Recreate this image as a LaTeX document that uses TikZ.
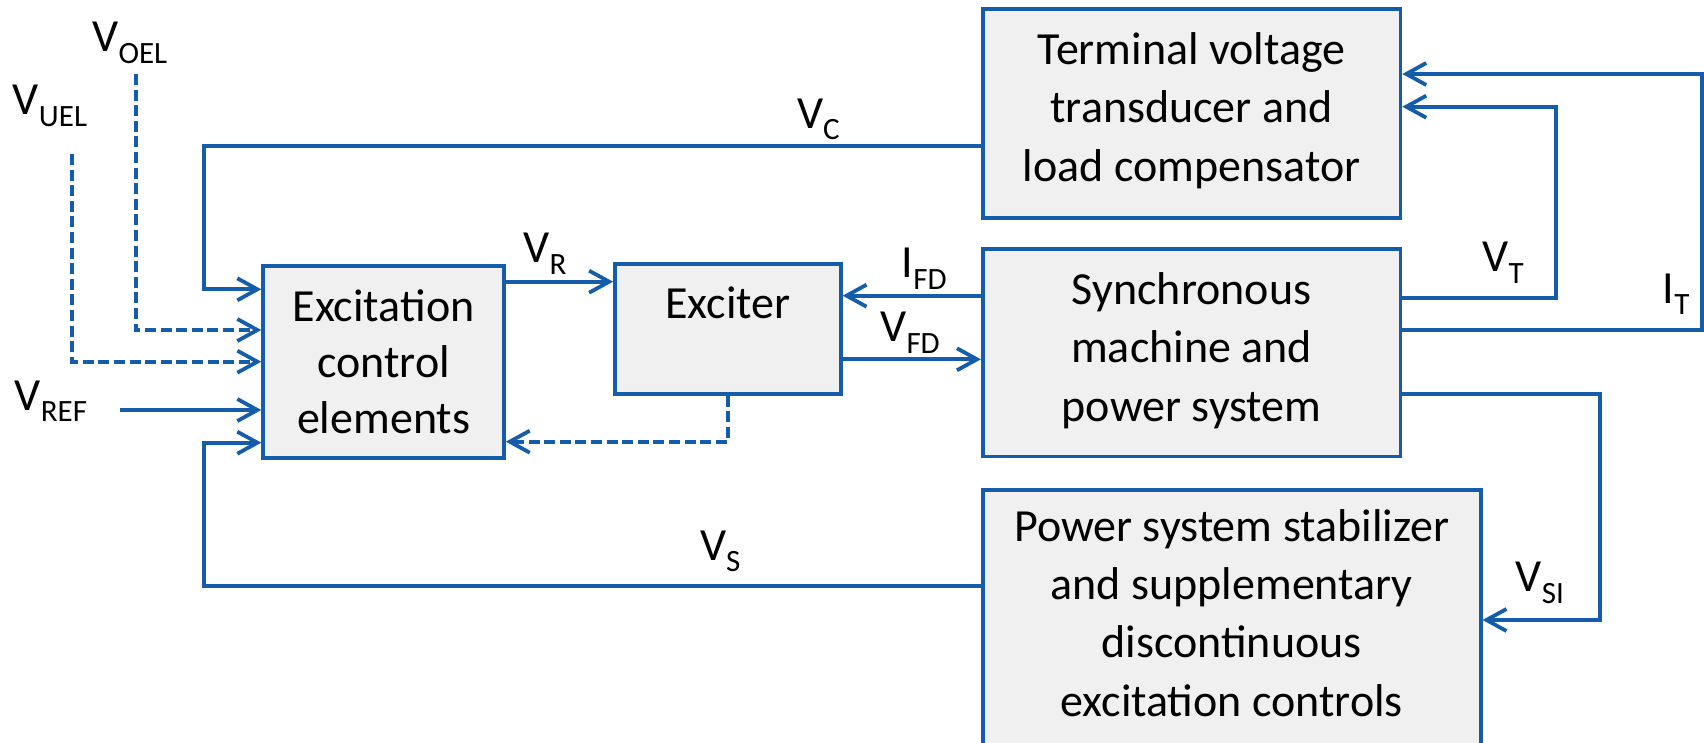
\documentclass[tikz,border=0pt]{standalone}
\usepackage{fontspec}
\setmainfont{Carlito}
\usetikzlibrary{arrows.meta}
\definecolor{lineblue}{HTML}{155DAA}
\definecolor{boxfill}{HTML}{F0F0F0}
\newcommand{\sbs}[1]{\raisebox{-5.7pt}{\fontsize{15.5}{18}\selectfont #1}}
\begin{document}
\begin{tikzpicture}[x=0.5pt,y=-0.5pt,
  box/.style={draw=lineblue, fill=boxfill, line width=1.9pt, inner sep=0pt, align=center, font=\fontsize{23}{29.15}\selectfont},
  txt/.style={inner sep=0pt, align=center, font=\fontsize{23}{29.15}\selectfont},
  lab/.style={inner sep=0pt, anchor=base west, font=\fontsize{23}{28}\selectfont},
  conn/.style={draw=lineblue, line width=1.9pt},
  arr/.style={conn, -{Straight Barb[length=10pt,width=11pt]}},
  dsh/.style={dash pattern=on 5.5pt off 2.3pt}
]
\useasboundingbox (0,0) rectangle (1704,743);
\clip (0,0) rectangle (1704,743);

\node[box, minimum width=120.35pt, minimum height=96.3pt, font=\fontsize{23}{28}\selectfont] (exc) at (383.55,362) {Excitation\\control\\elements};
\node[box, minimum width=112.85pt, minimum height=64.85pt] (exciter) at (727.85,329.15) {};
\node[txt, anchor=base] (excitertext) at (727.85,318.3) {Exciter};
\node[box, minimum width=208.8pt, minimum height=104.5pt] (tvt) at (1191.6,113.8) {};
\node[txt] (tvttext) at (1191.6,110.5) {Terminal voltage\\transducer and\\load compensator};
\node[box, minimum width=208.8pt, minimum height=103.55pt] (sync) at (1191.6,352.85) {};
\node[txt] (synctext) at (1191.6,350.5) {Synchronous\\machine and\\power system};
\node[box, minimum width=248.9pt, minimum height=145pt] (pss) at (1231.7,635) {};
\node[txt] (psstext) at (1231.7,613) {Power system stabilizer\\and supplementary\\discontinuous\\excitation controls};

\coordinate (oel) at (135.7,74);
\coordinate (uel) at (72.1,154);
\coordinate (ref) at (120.4,410);

\draw[arr] (tvt.west |- 0,146) -| (203.9,289.3) -- (exc.west |- 0,289.3);
\draw[arr, dsh] (oel) |- (exc.west |- 0,330);
\draw[arr, dsh] (uel) |- (exc.west |- 0,361.7);
\draw[arr] (ref) -- (exc.west |- ref);
\draw[arr] (pss.west |- 0,586) -| (203.9,442.7) -- (exc.west |- 0,442.7);
\draw[arr] (exc.east |- 0,281.7) -- (exciter.west |- 0,281.7);
\draw[arr] (sync.west |- 0,295.7) -- (exciter.east |- 0,295.7);
\draw[arr] (exciter.east |- 0,359.3) -- (sync.west |- 0,359.3);
\draw[arr, dsh] (exciter.south) |- (exc.east |- 0,441.7);
\draw[arr] (sync.east |- 0,298.3) -| (1555.6,106.7) -- (tvt.east |- 0,106.7);
\draw[arr] (sync.east |- 0,330) -| (1701.6,74) -- (tvt.east |- 0,74);
\draw[arr] (sync.east |- 0,394) -| (1599.8,620) -- (pss.east |- 0,620);

\node[lab] (lvoel) at (92,51.7) {V\sbs{OEL}};
\node[lab] (lvuel) at (12.5,115) {V\sbs{UEL}};
\node[lab] (lvref) at (14.3,410) {V\sbs{REF}};
\node[lab] (lvc) at (796.7,128.3) {V\sbs{C}};
\node[lab] (lvr) at (523,263) {V\sbs{R}};
\node[lab] (lifd) at (901.4,277.7) {I\sbs{FD}};
\node[lab] (lvfd) at (880,341.7) {V\sbs{FD}};
\node[lab] (lvt) at (1482,271.7) {V\sbs{T}};
\node[lab] (lit) at (1662.4,303.3) {I\sbs{T}};
\node[lab] (lvsi) at (1515.3,591.7) {V\sbs{SI}};
\node[lab] (lvs) at (699.6,560) {V\sbs{S}};
\end{tikzpicture}
\end{document}
